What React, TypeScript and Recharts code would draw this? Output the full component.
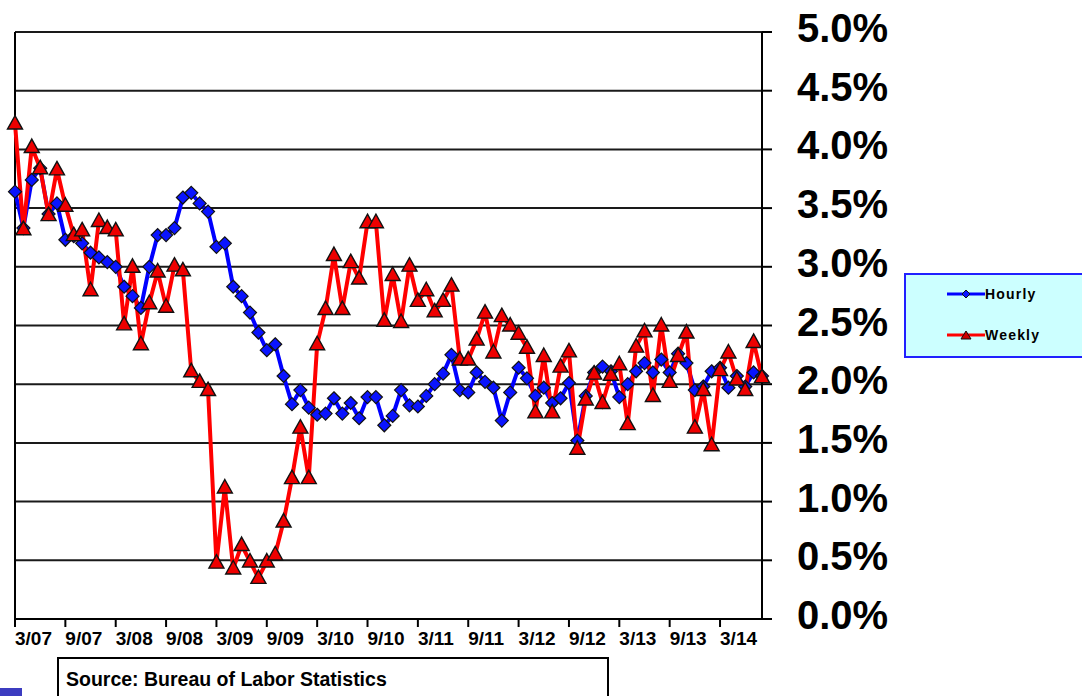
import React from 'react';
import { LineChart, Line, XAxis, YAxis, CartesianGrid, ReferenceLine } from 'recharts';

const FONT = '"Liberation Sans", Arial, sans-serif';
const HOURLY_COLOR = '#0000ff';
const WEEKLY_COLOR = '#ff0000';

// monthly, year-over-year % change, 3/07 through 8/14
const hourly = [
  3.64, 3.33, 3.74, 3.84, 3.45, 3.54, 3.23, 3.26, 3.2, 3.12,
  3.08, 3.04, 3.0, 2.83, 2.75, 2.65, 3.0, 3.27, 3.27, 3.33,
  3.59, 3.63, 3.54, 3.47, 3.17, 3.2, 2.83, 2.75, 2.61, 2.44,
  2.29, 2.34, 2.07, 1.83, 1.95, 1.8, 1.74, 1.75, 1.88, 1.75,
  1.84, 1.71, 1.89, 1.89, 1.65, 1.73, 1.95, 1.82, 1.81, 1.9,
  2.0, 2.09, 2.25, 1.95, 1.93, 2.1, 2.02, 1.97, 1.69, 1.93,
  2.14, 2.05, 1.9, 1.97, 1.84, 1.88, 2.01, 1.52, 1.9, 2.1,
  2.15, 2.11, 1.89, 2.0, 2.11, 2.18, 2.1, 2.21, 2.1, 2.26,
  2.18, 1.95, 1.98, 2.11, 2.14, 1.97, 2.07, 1.98, 2.1, 2.07,
];

const weekly = [
  4.22, 3.32, 4.02, 3.84, 3.44, 3.83, 3.52, 3.27, 3.31, 2.8,
  3.39, 3.33, 3.31, 2.51, 3.0, 2.34, 2.69, 2.96, 2.66, 3.01,
  2.97, 2.11, 2.02, 1.95, 0.48, 1.12, 0.43, 0.63, 0.49, 0.35,
  0.49, 0.55, 0.83, 1.2, 1.63, 1.2, 2.34, 2.64, 3.1, 2.64,
  3.04, 2.9, 3.38, 3.38, 2.54, 2.93, 2.53, 3.01, 2.71, 2.8,
  2.62, 2.71, 2.84, 2.21, 2.21, 2.38, 2.61, 2.27, 2.58, 2.5,
  2.43, 2.31, 1.76, 2.24, 1.76, 2.15, 2.28, 1.45, 1.87, 2.09,
  1.84, 2.08, 2.17, 1.66, 2.32, 2.45, 1.9, 2.5, 2.02, 2.24,
  2.44, 1.63, 1.95, 1.48, 2.12, 2.27, 2.04, 1.95, 2.36, 2.06,
];

const tickIndex = [0, 6, 12, 18, 24, 30, 36, 42, 48, 54, 60, 66, 72, 78, 84];
const tickLabels = ['3/07', '9/07', '3/08', '9/08', '3/09', '9/09', '3/10', '9/10', '3/11', '9/11', '3/12', '9/12', '3/13', '9/13', '3/14'];
const yTicks = [0, 0.5, 1, 1.5, 2, 2.5, 3, 3.5, 4, 4.5, 5];

const data = hourly.map((h, i) => ({ i, hourly: h, weekly: weekly[i] }));

const Diamond = ({ cx, cy }: any) => {
  if (cx == null || cy == null) return null;
  const r = 6.5;
  return (
    <polygon
      points={`${cx},${cy - r} ${cx + r},${cy} ${cx},${cy + r} ${cx - r},${cy}`}
      fill="#0a14ff"
      stroke="#111"
      strokeWidth={1.2}
    />
  );
};

const Triangle = ({ cx, cy }: any) => {
  if (cx == null || cy == null) return null;
  return (
    <polygon
      points={`${cx},${cy - 8} ${cx + 7.5},${cy + 5.5} ${cx - 7.5},${cy + 5.5}`}
      fill="#ee0000"
      stroke="#111"
      strokeWidth={1.4}
    />
  );
};

const XTick = ({ x, y, payload }: any) => {
  const k = tickIndex.indexOf(payload.value);
  return (
    <text x={x} y={y + 16} textAnchor="start" fontFamily={FONT} fontSize={19} fontWeight="bold" fill="#000">
      {k >= 0 ? tickLabels[k] : ''}
    </text>
  );
};

const YTick = ({ y, payload }: any) => (
  <text x={797} y={y + 10} textAnchor="start" fontFamily={FONT} fontSize={40} fontWeight="bold" fill="#000">
    {payload.value.toFixed(1)}%
  </text>
);

export default function App() {
  return (
    <div style={{ position: 'absolute', left: 0, top: 0, width: 1082, height: 696, background: '#fff', overflow: 'hidden', fontFamily: FONT }}>
      <LineChart width={1082} height={696} data={data} margin={{ top: 32, right: 0, bottom: 0, left: 15 }}>
        <CartesianGrid vertical={false} stroke="#1a1a1a" strokeWidth={2} />
        <XAxis
          dataKey="i"
          type="number"
          domain={[0, 89]}
          ticks={tickIndex}
          interval={0}
          height={77}
          axisLine={{ stroke: '#000', strokeWidth: 2 }}
          tickLine={{ stroke: '#000', strokeWidth: 2 }}
          tickSize={8}
          tick={<XTick />}
        />
        <YAxis
          orientation="right"
          domain={[0, 5]}
          ticks={yTicks}
          interval={0}
          width={320}
          axisLine={{ stroke: '#000', strokeWidth: 2 }}
          tickLine={{ stroke: '#000', strokeWidth: 2 }}
          tickSize={10}
          tick={<YTick />}
        />
        <ReferenceLine x={0} stroke="#000" strokeWidth={2} />
        <Line
          dataKey="hourly"
          stroke={HOURLY_COLOR}
          strokeWidth={4}
          dot={(p: any) => <Diamond key={`h${p.index}`} {...p} />}
          isAnimationActive={false}
        />
        <Line
          dataKey="weekly"
          stroke={WEEKLY_COLOR}
          strokeWidth={4}
          dot={(p: any) => <Triangle key={`w${p.index}`} {...p} />}
          isAnimationActive={false}
        />
      </LineChart>

      {/* legend */}
      <div style={{ position: 'absolute', left: 904, top: 273, width: 190, height: 81, background: '#ccffff', border: '2px solid #2020ff' }}>
        {[
          { name: 'Hourly', color: HOURLY_COLOR, marker: 'd' },
          { name: 'Weekly', color: WEEKLY_COLOR, marker: 't' },
        ].map((s, k) => (
          <div key={s.name} style={{ position: 'absolute', left: 41, top: 10 + k * 41, height: 18, display: 'flex', alignItems: 'center' }}>
            <svg width={38} height={18}>
              <line x1={0} y1={9} x2={38} y2={9} stroke={s.color} strokeWidth={3} />
              {s.marker === 'd' ? (
                <polygon points="19,5 23,9 19,13 15,9" fill="#0a14ff" stroke="#111" strokeWidth={1} />
              ) : (
                <polygon points="19,5 24,13 14,13" fill="#cc0000" stroke="#111" strokeWidth={1} />
              )}
            </svg>
            <span style={{ fontSize: 14, fontWeight: 'bold', letterSpacing: 1.2, color: '#000' }}>{s.name}</span>
          </div>
        ))}
      </div>

      {/* source note */}
      <div style={{ position: 'absolute', left: 57, top: 657, width: 548, height: 60, border: '2px solid #000', background: '#fff' }}>
        <div style={{ position: 'absolute', left: 7, top: 9, fontSize: 19.5, fontWeight: 'bold', color: '#000' }}>
          Source: Bureau of Labor Statistics
        </div>
      </div>

      <div style={{ position: 'absolute', left: 0, top: 688, width: 22, height: 8, background: '#3c3cc0' }} />
    </div>
  );
}
